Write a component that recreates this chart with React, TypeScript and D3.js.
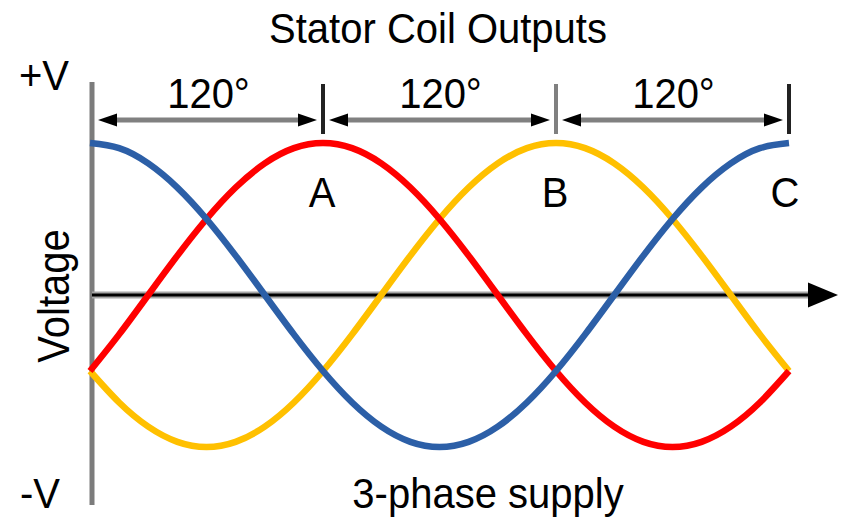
import React from "react";
import * as d3 from "d3";

const angles = [0, 15, 30, 45, 60, 75, 90, 105, 120, 135, 150, 165, 180, 195, 210, 225, 240, 255, 270, 285, 300, 315, 330, 345, 360];
const blueValues = [1, 0.966, 0.866, 0.707, 0.5, 0.259, 0, -0.259, -0.5, -0.707, -0.866, -0.966, -1, -0.966, -0.866, -0.707, -0.5, -0.259, 0, 0.259, 0.5, 0.707, 0.866, 0.966, 1];
const redValues = [-0.5, -0.259, 0, 0.259, 0.5, 0.707, 0.866, 0.966, 1, 0.966, 0.866, 0.707, 0.5, 0.259, 0, -0.259, -0.5, -0.707, -0.866, -0.966, -1, -0.966, -0.866, -0.707, -0.5];
const yellowValues = [-0.5, -0.707, -0.866, -0.966, -1, -0.966, -0.866, -0.707, -0.5, -0.259, 0, 0.259, 0.5, 0.707, 0.866, 0.966, 1, 0.966, 0.866, 0.707, 0.5, 0.259, 0, -0.259, -0.5];

const markerAngles = [0, 120, 240, 360];
const markerColors = ["#7a7a7a", "#222222", "#808080", "#222222"];
const peakLabels = ["A", "B", "C"];
const peakAngles = [120, 240, 360];
const spanLabel = "120°";
const title = "Stator Coil Outputs";
const subtitle = "3-phase supply";
const yAxisLabel = "Voltage";
const yTopLabel = "+V";
const yBottomLabel = "-V";

const series = [
  { name: "yellow", values: yellowValues, color: "#ffc000" },
  { name: "red", values: redValues, color: "#ff0000" },
  { name: "blue", values: blueValues, color: "#2c5fa7" },
];

const W = 842;
const H = 518;
const FONT = "'Liberation Sans', Arial, Helvetica, sans-serif";

function T({ x, y, children, anchor = "middle", size = 40, rotate = 0 }: any) {
  const tr = rotate
    ? `translate(${x},${y}) rotate(${rotate}) scale(1,1.1)`
    : `translate(${x},${y}) scale(1,1.08)`;
  return (
    <text transform={tr} textAnchor={anchor} fontFamily={FONT} fontSize={size} fill="#000">
      {children}
    </text>
  );
}

export default function App() {
  const x = d3.scaleLinear().domain([0, 360]).range([90, 789]);
  const y = d3.scaleLinear().domain([-1, 1]).range([447, 143]);
  const line = d3
    .line<number>()
    .x((_, i) => x(angles[i]))
    .y((d) => y(d))
    .curve(d3.curveNatural);

  const axisY = y(0);
  const yAxisX = x(0) + 2;
  const dimY = 120;

  const arrowHead = (tipX: number, dir: number, cy: number, len: number, half: number) =>
    `M${tipX},${cy} L${tipX - dir * len},${cy - half} L${tipX - dir * len},${cy + half} Z`;

  return (
    <svg width={W} height={H} style={{ position: "absolute", left: 0, top: 0, background: "#fff" }}>
      <rect width={W} height={H} fill="#fff" />
      {/* title */}
      <T x={438} y={43}>{title}</T>
      {/* y axis */}
      <line x1={yAxisX} x2={yAxisX} y1={82} y2={505} stroke="#7c7c7c" strokeWidth={5} />
      {/* x axis */}
      <line x1={yAxisX} x2={812} y1={axisY} y2={axisY} stroke="#a6a6a6" strokeWidth={7} />
      <line x1={yAxisX} x2={812} y1={axisY} y2={axisY} stroke="#000" strokeWidth={3} />
      <path d={arrowHead(838, 1, axisY, 30, 12.5)} fill="#000" />
      {/* marker ticks */}
      {markerAngles.slice(1).map((a, i) => (
        <line key={a} x1={x(a)} x2={x(a)} y1={84} y2={134} stroke={markerColors[i + 1]} strokeWidth={4} />
      ))}
      {/* dimension arrows */}
      {markerAngles.slice(0, -1).map((a, i) => {
        const x0 = i === 0 ? yAxisX : x(a);
        const x1 = x(markerAngles[i + 1]);
        const l = x0 + 6;
        const r = x1 - 6;
        return (
          <g key={a}>
            <line x1={l + 10} x2={r - 10} y1={dimY} y2={dimY} stroke="#808080" strokeWidth={5} />
            <path d={arrowHead(l, -1, dimY, 19, 6.5)} fill="#000" />
            <path d={arrowHead(r, 1, dimY, 19, 6.5)} fill="#000" />
            <T x={(x0 + x1) / 2 + 1} y={108}>{spanLabel}</T>
          </g>
        );
      })}
      {/* curves */}
      {series.map((s) => (
        <path key={s.name} d={line(s.values) || ""} fill="none" stroke={s.color} strokeWidth={6.5} strokeLinejoin="round" />
      ))}
      {/* peak labels */}
      {peakLabels.map((lbl, i) => (
        <T key={lbl} x={x(peakAngles[i]) - (i === 2 ? 4 : 1)} y={207}>{lbl}</T>
      ))}
      {/* y labels */}
      <T x={19} y={90} anchor="start">{yTopLabel}</T>
      <T x={20} y={508} anchor="start">{yBottomLabel}</T>
      <T x={69} y={296} rotate={-90}>{yAxisLabel}</T>
      <T x={488} y={508}>{subtitle}</T>
    </svg>
  );
}
